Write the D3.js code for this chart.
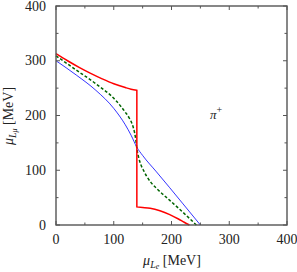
<!DOCTYPE html>
<html><head><meta charset="utf-8">
<script src="https://cdn.jsdelivr.net/npm/d3@7"></script>
<style>body{margin:0;background:#fff}svg{display:block}</style>
</head><body>
<svg id="c" width="297" height="272"></svg>
<script>
const xTicks = [0, 100, 200, 300, 400];
const yTicks = [0, 100, 200, 300, 400];
const minorTicks = [50, 150, 250, 350];
const redUpper = [[0,313],[20,300],[40,288],[60,277],[80,267],[100,258],[120,251],[130,248],[140,246]];
const redLower = [[140,33],[150,32],[163,30.5],[180,26],[197,19],[212,11],[222,5],[231,0]];
const greenCurve = [[0,309],[35,283],[69,258],[104,227],[120,206],[127,195],[132,184],[136,169],[138,157],[140,140],[143,124],[147,110],[152,99],[157,89],[165,77],[174,67],[197,45],[220,23],[243,0]];
const blueCurve = [[0,300],[35,274],[69,246],[100,213],[120,183],[130,164],[140,142],[150,127],[174,97],[197,68],[220,38.5],[250,0]];
const piLabel = "π";

const svg = d3.select("#c");
const L = 56, R = 287, T = 6, B = 225;
const x = d3.scaleLinear().domain([0,400]).range([L,R]);
const y = d3.scaleLinear().domain([0,400]).range([B,T]);
const font = "'Liberation Serif', 'DejaVu Serif', serif";
const line = d3.line().x(d=>x(d[0])).y(d=>y(d[1])).curve(d3.curveMonotoneX);
const lin = d3.line().x(d=>x(d[0])).y(d=>y(d[1]));

// curves
svg.append("path").attr("d", line(blueCurve)).attr("fill","none").attr("stroke","#0000ff").attr("stroke-width",0.8);
svg.append("path").attr("d", line(greenCurve)).attr("fill","none").attr("stroke","#006400").attr("stroke-width",1.5).attr("stroke-dasharray","3,2");
const redPath = line(redUpper) + lin([redUpper[redUpper.length-1], redLower[0]]).replace(/^M/,"L") + line(redLower).replace(/^M/,"L");
svg.append("path").attr("d", redPath).attr("fill","none").attr("stroke","#ff0000").attr("stroke-width",1.5).attr("stroke-linejoin","miter");

// ticks
const tg = svg.append("g").attr("stroke","#555").attr("stroke-width",1);
xTicks.concat(minorTicks).forEach(v=>{
  const len = xTicks.includes(v) ? 4 : 2.5;
  tg.append("line").attr("x1",x(v)).attr("x2",x(v)).attr("y1",B).attr("y2",B-len);
  tg.append("line").attr("x1",x(v)).attr("x2",x(v)).attr("y1",T).attr("y2",T+len);
});
yTicks.concat(minorTicks).forEach(v=>{
  const len = yTicks.includes(v) ? 4 : 2.5;
  tg.append("line").attr("y1",y(v)).attr("y2",y(v)).attr("x1",L).attr("x2",L+len);
  tg.append("line").attr("y1",y(v)).attr("y2",y(v)).attr("x1",R).attr("x2",R-len);
});
// frame
svg.append("rect").attr("x",L).attr("y",T).attr("width",R-L).attr("height",B-T)
  .attr("fill","none").attr("stroke","#555").attr("stroke-width",1.4);

// tick labels
xTicks.forEach(v=>{
  svg.append("text").attr("x",x(v)).attr("y",244).attr("text-anchor","middle")
    .attr("font-family",font).attr("font-size",14).attr("fill","#222").text(v);
});
yTicks.forEach(v=>{
  svg.append("text").attr("x",46).attr("y",y(v)+4.5).attr("text-anchor","end")
    .attr("font-family",font).attr("font-size",14).attr("fill","#222").text(v);
});

// axis titles
const xt = svg.append("text").attr("x",172).attr("y",265).attr("text-anchor","middle")
  .attr("font-family",font).attr("font-size",14).attr("fill","#222");
xt.append("tspan").attr("font-style","italic").text("μ");
xt.append("tspan").attr("font-style","italic").attr("font-size",10).attr("dy",2.5).text("L");
xt.append("tspan").attr("font-style","italic").attr("font-size",8).attr("dy",1.5).text("e");
xt.append("tspan").attr("dy",-4).text(" [MeV]");

const yt = svg.append("text").attr("transform","translate(13,116) rotate(-90)").attr("text-anchor","middle")
  .attr("font-family",font).attr("font-size",14).attr("fill","#222");
yt.append("tspan").attr("font-style","italic").text("μ");
yt.append("tspan").attr("font-style","italic").attr("font-size",10).attr("dy",2.5).text("L");
yt.append("tspan").attr("font-style","italic").attr("font-size",8).attr("dy",1.5).text("μ");
yt.append("tspan").attr("dy",-4).text(" [MeV]");

// pi+ label
const pl = svg.append("text").attr("x",210).attr("y",119).attr("font-family",font).attr("font-size",13).attr("fill","#222");
pl.append("tspan").attr("font-style","italic").text(piLabel);
pl.append("tspan").attr("font-size",10).attr("dy",-6).text("+");
</script>
</body></html>
